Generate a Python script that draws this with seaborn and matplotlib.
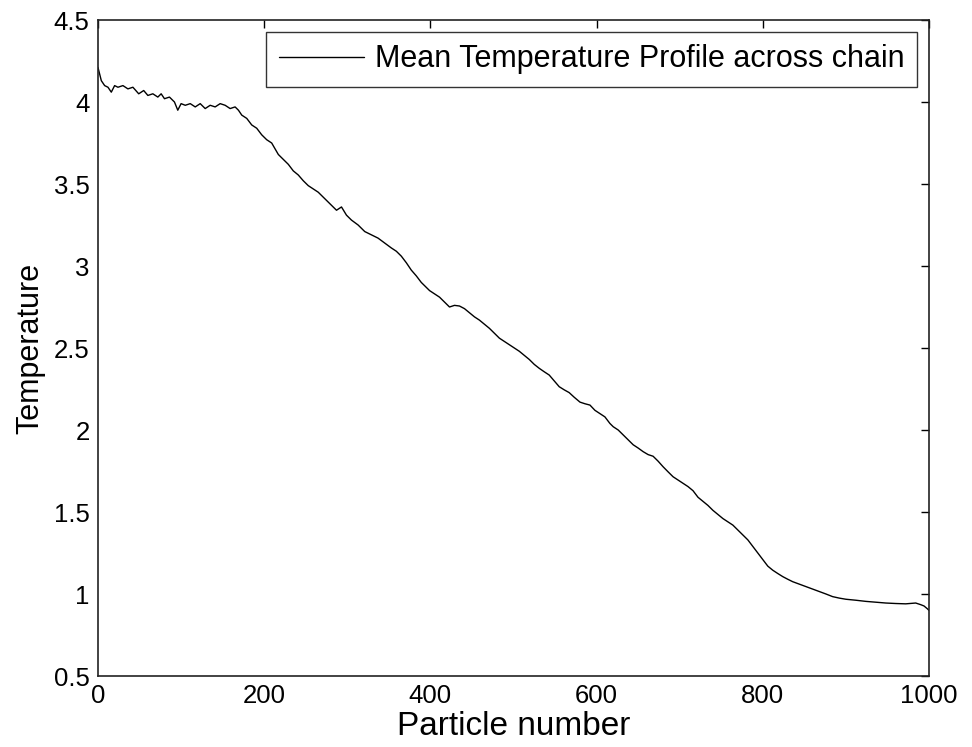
import matplotlib
matplotlib.use('Agg')
import matplotlib.pyplot as plt
import seaborn as sns
import pandas as pd

# particle index and mean temperature
particle = [
    0, 4, 8, 12, 16, 20, 24, 30, 36, 42, 49, 55, 60, 66, 72, 76, 80, 86, 92, 96,
    100, 105, 111, 117, 123, 129, 135, 141, 147, 153, 159, 165, 169, 173, 179, 185, 191, 197,
    203, 209, 217, 223, 229, 235, 241, 247, 253, 259, 265, 271, 277, 283, 287, 293, 299,
    305, 313, 321, 329, 337, 345, 353, 359, 365, 371, 377, 383, 389, 395, 399,
    405, 411, 417, 423, 429, 435, 441, 447, 453, 459, 465, 471, 477, 483, 489, 495,
    501, 507, 513, 519, 525, 531, 537, 543, 549, 555, 561, 567, 573, 580, 586, 592, 598,
    604, 610, 616, 620, 626, 632, 638, 644, 650, 656, 662, 668, 674, 680, 686, 692, 698,
    704, 710, 716, 722, 728, 734, 740, 746, 752, 758, 764, 770, 776, 782, 788, 794,
    800, 806, 812, 818, 824, 830, 836, 844, 852, 860, 868, 876, 884, 892,
    900, 912, 924, 936, 948, 960, 972, 984, 990, 994, 998, 1000,
]
temperature = [
    4.21, 4.13, 4.10, 4.09, 4.06, 4.10, 4.09, 4.10, 4.08, 4.09, 4.05, 4.07, 4.04, 4.05, 4.03, 4.05, 4.02, 4.03, 4.00, 3.95,
    3.99, 3.98, 3.99, 3.97, 3.99, 3.96, 3.98, 3.97, 3.99, 3.98, 3.96, 3.97, 3.95, 3.92, 3.90, 3.86, 3.84, 3.80,
    3.77, 3.75, 3.68, 3.65, 3.62, 3.58, 3.555, 3.52, 3.49, 3.47, 3.45, 3.42, 3.39, 3.36, 3.34, 3.36, 3.31,
    3.28, 3.25, 3.21, 3.19, 3.17, 3.14, 3.11, 3.09, 3.06, 3.02, 2.975, 2.94, 2.90, 2.87, 2.85,
    2.83, 2.81, 2.78, 2.75, 2.76, 2.756, 2.74, 2.715, 2.69, 2.67, 2.645, 2.62, 2.59, 2.56, 2.54, 2.52,
    2.50, 2.48, 2.455, 2.43, 2.40, 2.376, 2.355, 2.335, 2.30, 2.264, 2.245, 2.228, 2.20, 2.17, 2.16, 2.152, 2.12,
    2.10, 2.08, 2.04, 2.02, 2.00, 1.97, 1.94, 1.91, 1.89, 1.868, 1.85, 1.84, 1.81, 1.776, 1.745, 1.715, 1.695,
    1.675, 1.655, 1.63, 1.59, 1.565, 1.54, 1.51, 1.485, 1.46, 1.44, 1.42, 1.39, 1.36, 1.33, 1.29, 1.25,
    1.21, 1.17, 1.145, 1.125, 1.106, 1.09, 1.075, 1.06, 1.045, 1.03, 1.015, 1.00, 0.984, 0.975,
    0.968, 0.962, 0.955, 0.95, 0.945, 0.942, 0.94, 0.945, 0.935, 0.927, 0.91, 0.90,
]

x_ticks = [0, 200, 400, 600, 800, 1000]
y_ticks = [0.5, 1, 1.5, 2, 2.5, 3, 3.5, 4, 4.5]
y_ticklabels = ['0.5', '1', '1.5', '2', '2.5', '3', '3.5', '4', '4.5']

sns.set_style('white')
plt.rcParams['font.family'] = ['Liberation Sans', 'DejaVu Sans']
plt.rcParams['text.color'] = 'black'
plt.rcParams['axes.labelcolor'] = 'black'

df = pd.DataFrame({'particle': particle, 'temperature': temperature})

fig = plt.figure(figsize=(9.72, 7.47), dpi=100)
ax = fig.add_axes([98 / 972, 1 - 676 / 747, (929 - 98) / 972, (676 - 20) / 747])

sns.lineplot(data=df, x='particle', y='temperature', color='black', linewidth=1.0,
             label='Mean Temperature Profile across chain', ax=ax)

ax.set_xlim(0, 1000)
ax.set_ylim(0.5, 4.5)
ax.set_xticks(x_ticks)
ax.set_yticks(y_ticks)
ax.set_yticklabels(y_ticklabels)
ax.tick_params(direction='in', length=6, width=1, top=True, right=True,
               labelsize=18.5, colors='black', pad=6)
for s in ax.spines.values():
    s.set_color('#222222')
    s.set_linewidth(1.2)

ax.set_xlabel('Particle number', fontsize=24, labelpad=2)
ax.set_ylabel('Temperature', fontsize=22, labelpad=6)

leg = ax.legend(loc='upper right', fontsize=22, frameon=True, fancybox=False,
                edgecolor='black', handlelength=2.8, handletextpad=0.35,
                borderpad=0.4, borderaxespad=0.4)
leg.get_frame().set_linewidth(1.0)

fig.savefig('out.png', dpi=100)
